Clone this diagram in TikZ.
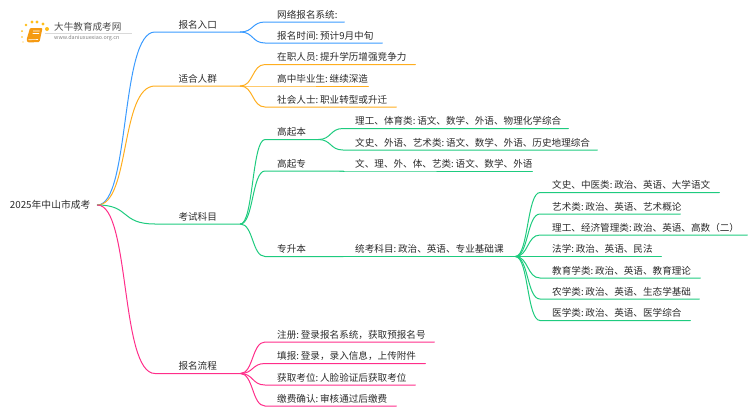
\documentclass[tikz,border=0pt]{standalone}
\usepackage{fontspec}
\setmainfont[WordSpace=0.5]{Noto Sans CJK SC}
\definecolor{blueline}{HTML}{3B9BFF}
\definecolor{orangeline}{HTML}{FFAE1F}
\definecolor{greenline}{HTML}{1ECB7F}
\definecolor{pinkline}{HTML}{FF2E8A}
\definecolor{inktext}{HTML}{2B2B2B}
\definecolor{bookorange}{HTML}{F59A12}
\tikzset{
	topic/.style={anchor=south west,inner xsep=0pt,inner ysep=3.8pt,text height=8pt,text depth=0pt,font=\fontsize{9.6}{11}\selectfont,text=inktext},
	wire/.style={line width=1pt,line cap=round}
}
\begin{document}
\begin{tikzpicture}[x=1pt,y=-1pt]
	\useasboundingbox (0,0) rectangle (750,410);
	\node[anchor=west,inner sep=0pt,minimum width=94pt,font=\fontsize{9.8}{11}\selectfont,text=inktext] (root) at (3,205) {2025年中山市成考};
	% main branches
	\foreach \n/\c/\y/\t in {entry/blueline/32/报名入口,crowd/orangeline/86/适合人群,subject/greenline/224/考试科目,flow/pinkline/373.5/报名流程}{
		\node[topic,minimum width=85pt] (\n) at (155,\y) {\t};
		\draw[wire,\c] (root.east) .. controls +(33,0) and +(-35,0) .. (\n.south west) -- (\n.south east);
	}
	% leaves
	\foreach \n/\p/\c/\x/\y/\w/\t in {
		net/entry/blueline/265/22/79/网络报名系统:,
		date/entry/blueline/265/43/117/报名时间: 预计9月中旬,
		worker/crowd/orangeline/265/64.5/150/在职人员: 提升学历增强竞争力,
		senior/crowd/orangeline/265/86/103/高中毕业生: 继续深造,
		social/crowd/orangeline/265/107/131/社会人士: 职业转型或升迁,
		gqb/subject/greenline/265/139.5/53/高起本,
		gqz/subject/greenline/265/171/78/高起专,
		zsb/subject/greenline/265/256.5/78/专升本,
		lg/gqb/greenline/343/128.5/225/理工、体育类: 语文、数学、外语、物理化学综合,
		wsh/gqb/greenline/343/150/254/文史、外语、艺术类: 语文、数学、外语、历史地理综合,
		wl/gqz/greenline/343/171/189/文、理、外、体、艺类: 语文、数学、外语,
		tk/zsb/greenline/343/256.5/172/统考科目: 政治、英语、专业基础课,
		ws/tk/greenline/540/192.5/179/文史、中医类: 政治、英语、大学语文,
		ys/tk/greenline/540/214/140/艺术类: 政治、英语、艺术概论,
		jj/tk/greenline/540/235/207/理工、经济管理类: 政治、英语、高数（二）,
		fx/tk/greenline/540/256.5/121/法学: 政治、英语、民法,
		jy/tk/greenline/540/278/160/教育学类: 政治、英语、教育理论,
		nx/tk/greenline/540/299/159/农学类: 政治、英语、生态学基础,
		yx/tk/greenline/540/320.5/150/医学类: 政治、英语、医学综合,
		reg/flow/pinkline/265/342/169/注册: 登录报名系统，获取预报名号,
		fill/flow/pinkline/265/363.5/160/填报: 登录，录入信息，上传附件,
		seat/flow/pinkline/265/385/150/获取考位: 人脸验证后获取考位,
		pay/flow/pinkline/265/406/131/缴费确认: 审核通过后缴费%
	}{
		\node[topic] (\n) at (\x,\y) {\makebox[\w pt][l]{\hspace*{12pt}\t}};
		\draw[wire,\c] (\p.south east) .. controls +(13,0) and +(-13,0) .. (\n.south west) -- (\n.south east);
	}
	% logo
	\foreach \a/\b/\r in {22/37/.8,23/42/.7,22/31/1,26/25/1.3,32/22/1.6,37/22/1.7,43/24/1.7,47/29/2}{
		\fill[orangeline!80!yellow] (\a,\b) circle (\r);
	}
	\fill[bookorange,rounded corners=1pt] (30,28) -- (42.5,28) -- (39.5,42) -- (28,42.5) -- (26.5,40) -- cycle;
	\draw[white,line width=.6pt] (33,31) -- (39.5,31) (32.5,33.5) -- (39,33.5) (28.5,39.8) -- (38,39.5);
	\draw[gray!30,line width=.4pt] (45,33) -- (132,33);
	\node[anchor=west,inner sep=0pt,font=\fontsize{9.6}{11}\selectfont,text=inktext!85] (logoname) at (54,27) {大牛教育成考网};
	\node[anchor=west,inner sep=0pt,font=\fontsize{5.4}{6}\selectfont,text=gray] (logourl) at (54,38.5) {www.daniuxuexiao.org.cn};
\end{tikzpicture}
\end{document}
